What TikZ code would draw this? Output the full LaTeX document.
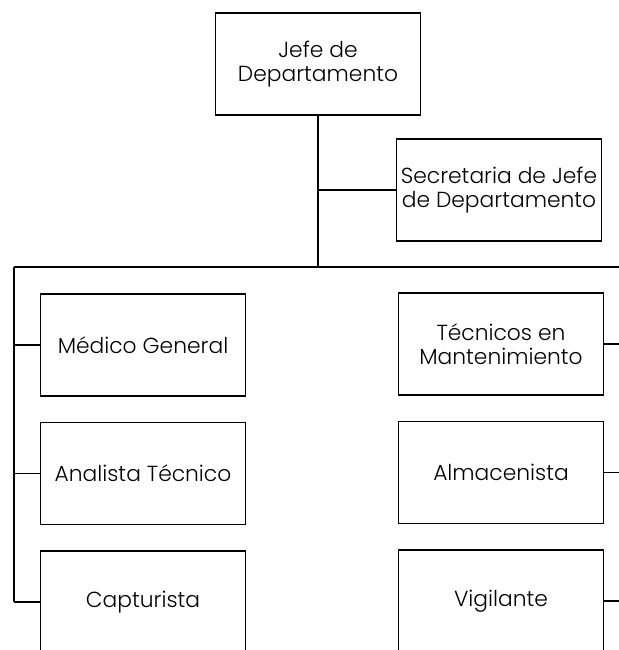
\documentclass[tikz,border=0pt]{standalone}
\usepackage{fontspec}
\setmainfont{Poppins}[UprightFont=* Light]
\usetikzlibrary{positioning}

\begin{document}
\begin{tikzpicture}[x=0.025cm,y=-0.025cm]
\tikzstyle{puesto}=[draw=black,line width=1pt,minimum width=5.125cm,minimum height=2.55cm,inner sep=1pt,align=center,font=\fontsize{15.5}{17.5}\selectfont];
\tikzstyle{linea}=[line width=1.3pt,draw=black];

\useasboundingbox (0,0) rectangle (618,650);

\node[puesto] (jefe) at (318,64) {Jefe de\\Departamento};
\node[puesto] (secre) at (499,190) {Secretaria de Jefe\\de Departamento};

% columna izquierda
\node[puesto] (medico) at (143,345) {M\'edico General};
\node[puesto, below=0.625cm of medico] (analista) {Analista T\'ecnico};
\node[puesto, below=0.625cm of analista] (captur) {Capturista};

% columna derecha
\node[puesto] (tecnicos) at (501,344) {T\'ecnicos en\\Mantenimiento};
\node[puesto, below=0.625cm of tecnicos] (almacen) {Almacenista};
\node[puesto, below=0.625cm of almacen] (vigil) {Vigilante};

\def \busy{267};
\coordinate (busizq) at (14,\busy);
\coordinate (busder) at (625,\busy);
\coordinate (busjefe) at (jefe.south |- busizq);

\draw[linea] (jefe.south) -- (busjefe); % linea del jefe
\draw[linea] (jefe.south |- secre.west) -- (secre.west);
\draw[linea] (busizq) -- (busder); % linea general
\draw[linea] (busizq) -- (busizq |- captur.west);

\foreach \n in {medico,analista,captur}
  \draw[linea] (busizq |- \n.west) -- (\n.west);
\foreach \n in {tecnicos,almacen,vigil}
  \draw[linea] (\n.east) -- (busder |- \n.east);

\end{tikzpicture}
\end{document}
